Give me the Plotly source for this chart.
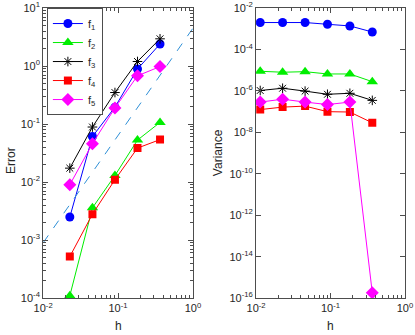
import plotly.graph_objects as go

h_err = [0.0227, 0.0455, 0.0909, 0.1818, 0.3636]
h_var = [0.01136, 0.0227, 0.0455, 0.0909, 0.1818, 0.3636]

err_f1 = [2.5e-3, 0.061, 0.196, 0.89, 2.4]
err_f2 = [1.1e-4, 3.6e-3, 0.013, 0.053, 0.107]
err_f3 = [0.0174, 0.089, 0.35, 1.2, 2.95]
err_f4 = [5.2e-4, 2.8e-3, 0.011, 0.0386, 0.054]
err_f5 = [9e-3, 0.046, 0.19, 0.68, 0.98]

var_f1 = [2.0e-3, 2.0e-3, 2.0e-3, 1.65e-3, 1.37e-3, 7e-4]
var_f2 = [8.9e-6, 8.0e-6, 8.5e-6, 6.6e-6, 6.6e-6, 2.8e-6]
var_f3 = [1.05e-6, 1.35e-6, 9.8e-7, 6.9e-7, 7.7e-7, 3.5e-7]
var_f4 = [1.26e-7, 1.66e-7, 1.85e-7, 1.0e-7, 9.6e-8, 2.9e-8]
var_f5 = [2.9e-7, 4.0e-7, 2.9e-7, 2.2e-7, 2.9e-7, 1.8e-16]

ref_h = [0.01, 1.0]
ref_err = [9e-4, 4.5]

names = ["f<sub>1</sub>", "f<sub>2</sub>", "f<sub>3</sub>", "f<sub>4</sub>", "f<sub>5</sub>"]
colors = ["#0000ff", "#00ee00", "#000000", "#ff0000", "#ff00ff"]
symbols = ["circle", "triangle-up", "asterisk-open", "square", "diamond"]
sizes = [9, 10, 8, 8, 10]

fig = go.Figure()

err_all = [err_f1, err_f2, err_f3, err_f4, err_f5]
var_all = [var_f1, var_f2, var_f3, var_f4, var_f5]

for i in range(5):
    mk = dict(symbol=symbols[i], size=sizes[i], color=colors[i],
              line=dict(color=colors[i], width=1 if i == 2 else 0))
    fig.add_trace(go.Scatter(x=h_err, y=err_all[i], mode="lines+markers", name=names[i],
                             line=dict(color=colors[i], width=1), marker=mk,
                             xaxis="x", yaxis="y"))
for i in range(5):
    mk = dict(symbol=symbols[i], size=sizes[i], color=colors[i],
              line=dict(color=colors[i], width=1 if i == 2 else 0))
    fig.add_trace(go.Scatter(x=h_var, y=var_all[i], mode="lines+markers", showlegend=False,
                             line=dict(color=colors[i], width=1), marker=mk,
                             xaxis="x2", yaxis="y2"))

fig.add_trace(go.Scatter(x=ref_h, y=ref_err, mode="lines", showlegend=False,
                         line=dict(color="#2e8fd6", width=1, dash="dash"),
                         xaxis="x", yaxis="y"))


def decade_ticks(lo, hi, step=1):
    vals = [10.0 ** e for e in range(lo, hi + 1, step)]
    text = ["10<sup>%d</sup>" % e for e in range(lo, hi + 1, step)]
    return vals, text


def minor_ticks(lo, hi):
    return [m * 10.0 ** e for e in range(lo, hi) for m in range(2, 10)]


axcol = "#4d4d4d"
xv, xt = decade_ticks(-2, 0)
common = dict(type="log", showgrid=False, zeroline=False, showline=True, linecolor=axcol,
              linewidth=1, mirror="ticks", ticks="inside", ticklen=5, tickcolor=axcol,
              automargin=False,
              tickfont=dict(family="Liberation Sans, Arial", size=11, color="#262626"))

fig.update_layout(
    width=415, height=335,
    margin=dict(l=0, r=0, t=0, b=0),
    plot_bgcolor="white", paper_bgcolor="white",
    showlegend=True,
    font=dict(family="Liberation Sans, Arial", size=12, color="#262626"),
    xaxis=dict(common, domain=[0.104, 0.465], range=[-2, 0.0005], tickvals=xv, ticktext=xt,
               anchor="y",
               minor=dict(ticks="inside", ticklen=3, tickcolor=axcol, tickvals=minor_ticks(-2, 0))),
    yaxis=dict(common, domain=[0.11, 0.976], range=[-4.0005, 1.0005],
               tickvals=decade_ticks(-4, 1)[0], ticktext=decade_ticks(-4, 1)[1], anchor="x",
               minor=dict(ticks="inside", ticklen=3, tickcolor=axcol, tickvals=minor_ticks(-4, 1))),
    xaxis2=dict(common, domain=[0.617, 0.976], range=[-2.0005, 0.0005], tickvals=xv, ticktext=xt,
                anchor="y2",
                minor=dict(ticks="inside", ticklen=3, tickcolor=axcol, tickvals=minor_ticks(-2, 0))),
    yaxis2=dict(common, domain=[0.11, 0.976], range=[-16.001, -1.999],
                tickvals=decade_ticks(-16, -2, 2)[0], ticktext=decade_ticks(-16, -2, 2)[1],
                anchor="x2"),
    legend=dict(x=0.113, y=0.976, xanchor="left", yanchor="top", bgcolor="white",
                bordercolor=axcol, borderwidth=1, itemwidth=30,
                font=dict(family="Liberation Sans, Arial", size=11, color="#262626"),
                tracegroupgap=0),
    annotations=[
        dict(text="h", x=0.285, y=0.0, xref="paper", yref="paper", xanchor="center",
             yanchor="bottom", showarrow=False, font=dict(size=12)),
        dict(text="h", x=0.797, y=0.0, xref="paper", yref="paper", xanchor="center",
             yanchor="bottom", showarrow=False, font=dict(size=12)),
        dict(text="Error", x=0.027, y=0.52, xref="paper", yref="paper", textangle=-90,
             xanchor="center", yanchor="middle", showarrow=False, font=dict(size=12)),
        dict(text="Variance", x=0.527, y=0.545, xref="paper", yref="paper", textangle=-90,
             xanchor="center", yanchor="middle", showarrow=False, font=dict(size=12)),
    ],
)

# drop the default page margin so the figure sits at the top-left corner
fig.write_html("out.html", config={"displayModeBar": False},
               post_script="document.body.style.margin='0';")
